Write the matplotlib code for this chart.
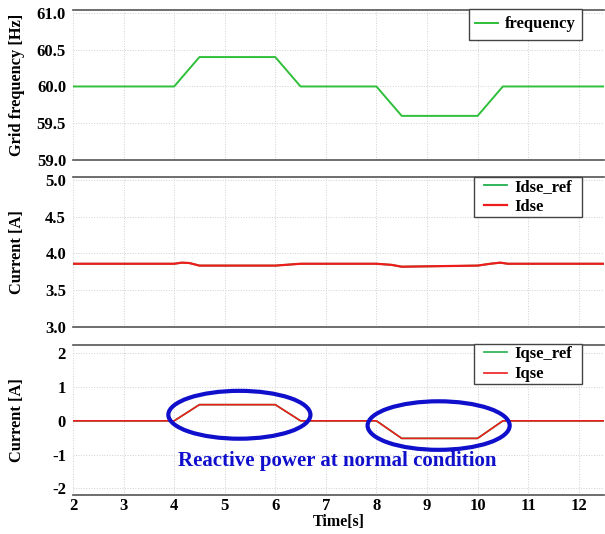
import numpy as np
import matplotlib.pyplot as plt
from matplotlib.patches import Ellipse
from matplotlib.path import Path

plt.rcParams['font.family'] = ['Liberation Serif', 'DejaVu Serif']
plt.rcParams['font.weight'] = 'bold'
plt.rcParams['axes.unicode_minus'] = False

# grid frequency profile (breakpoints)
t_freq = [2.0, 4.0, 4.5, 6.0, 6.5, 8.0, 8.5, 10.0, 10.5, 12.5]
freq = [60.0, 60.0, 60.4, 60.4, 60.0, 60.0, 59.6, 59.6, 60.0, 60.0]

# d-axis current and its reference
t_idse = [2.0, 4.0, 4.15, 4.3, 4.5, 6.0, 6.2, 6.5, 8.0, 8.3, 8.5, 10.0, 10.25, 10.45, 10.6, 12.5]
idse = [3.86, 3.86, 3.875, 3.87, 3.835, 3.835, 3.845, 3.86, 3.86, 3.845, 3.82, 3.835, 3.86, 3.875, 3.86, 3.86]
idse_ref = idse

# q-axis current and its reference
t_iqse = [2.0, 4.0, 4.5, 6.0, 6.5, 8.0, 8.5, 10.0, 10.5, 12.5]
iqse = [0.0, 0.0, 0.48, 0.48, 0.0, 0.0, -0.52, -0.52, 0.0, 0.0]
iqse_ref = iqse

green = '#2fbf3a'
red = '#ee1c1c'
blue = '#1010cc'


def make_box(padx, pady):
    # square legend frame with separate horizontal / vertical padding
    def box(x0, y0, width, height, mutation_size):
        px, py = padx * mutation_size, pady * mutation_size
        xa, ya = x0 - px, y0 - py
        xb, yb = x0 + width + px, y0 + height + py
        return Path([(xa, ya), (xb, ya), (xb, yb), (xa, yb), (xa, ya)],
                    [Path.MOVETO, Path.LINETO, Path.LINETO, Path.LINETO, Path.CLOSEPOLY])
    return box


fig = plt.figure(figsize=(6.05, 5.34), dpi=100)
L, W = 73 / 605, 531 / 605
ax1 = fig.add_axes([L, 1 - 160 / 534, W, 150 / 534])
ax2 = fig.add_axes([L, 1 - 327 / 534, W, 150 / 534])
ax3 = fig.add_axes([L, 1 - 495 / 534, W, 150 / 534])

ax1.plot(t_freq, freq, color=green, lw=1.4, label='frequency')
ax1.set_ylim(59.0, 61.04)
ax1.set_yticks([59.0, 59.5, 60.0, 60.5, 61.0])
ax1.set_yticklabels(['59.0', '59.5', '60.0', '60.5', '61.0'])
ax1.set_ylabel('Grid frequency [Hz]', fontsize=11.8, fontweight='bold')

ax2.plot(t_idse, idse_ref, color='#22b04c', lw=1.3, label='Idse_ref')
ax2.plot(t_idse, idse, color=red, lw=1.6, label='Idse')
ax2.set_ylim(3.0, 5.04)
ax2.set_yticks([3.0, 3.5, 4.0, 4.5, 5.0])
ax2.set_yticklabels(['3.0', '3.5', '4.0', '4.5', '5.0'])
ax2.set_ylabel('Current [A]', fontsize=11.8, fontweight='bold')

ax3.plot(t_iqse, iqse_ref, color='#22b04c', lw=1.2, label='Iqse_ref')
ax3.plot(t_iqse, iqse, color=red, lw=1.2, label='Iqse')
ax3.set_ylim(-2.2, 2.25)
ax3.set_yticks([-2, -1, 0, 1, 2])
ax3.set_ylabel('Current [A]', fontsize=11.8, fontweight='bold')
ax3.set_xlabel('Time[s]', fontsize=11.5, fontweight='bold', labelpad=0)

ax3.add_patch(Ellipse((5.29, 0.18), 2.81, 1.42, fill=False, ec=blue, lw=3, zorder=5))
ax3.add_patch(Ellipse((9.23, -0.14), 2.81, 1.44, fill=False, ec=blue, lw=3, zorder=5))
ax3.text(4.08, -1.2, 'Reactive power at normal condition', color=blue,
         fontsize=15, fontweight='bold', va='center', ha='left')

for ax in (ax1, ax2, ax3):
    ax.set_xlim(2, 12.5)
    ax.set_xticks(range(2, 13))
    ax.grid(True, color='#d0d0d0', lw=0.7, ls=':')
    ax.tick_params(length=0, labelsize=12)
    ax.tick_params(axis='y', pad=5)
    ax.tick_params(axis='x', pad=2)
    for lab in ax.get_yticklabels() + ax.get_xticklabels():
        lab.set_fontweight('bold')
    ax.spines['left'].set_visible(False)
    ax.spines['right'].set_visible(False)
    ax.spines['top'].set_color('#555555')
    ax.spines['bottom'].set_color('#555555')
    ax.spines['top'].set_linewidth(1.2)
    ax.spines['bottom'].set_linewidth(1.2)
    ax.yaxis.set_label_coords(-0.09, 0.5)

leg_style = dict(loc='upper right', borderaxespad=0, fancybox=False, borderpad=0.12,
                 edgecolor='#444444', framealpha=1, prop={'size': 12, 'weight': 'bold'},
                 handlelength=1.35, handletextpad=0.45, labelspacing=0.25)

legend_setup = ((ax1, (0.951, 0.97), make_box(0.25, 0.33)),
                (ax2, (0.9435, 1.0), make_box(0.5, 0.0)),
                (ax3, (0.9435, 1.005), make_box(0.5, 0.0)))
for ax, anchor, box in legend_setup:
    leg = ax.legend(bbox_to_anchor=anchor, **leg_style)
    leg.get_frame().set_boxstyle(box)
    leg.get_frame().set_linewidth(1.0)

ax1.tick_params(labelbottom=False)
ax2.tick_params(labelbottom=False)

fig.savefig('out.png', dpi=100)
